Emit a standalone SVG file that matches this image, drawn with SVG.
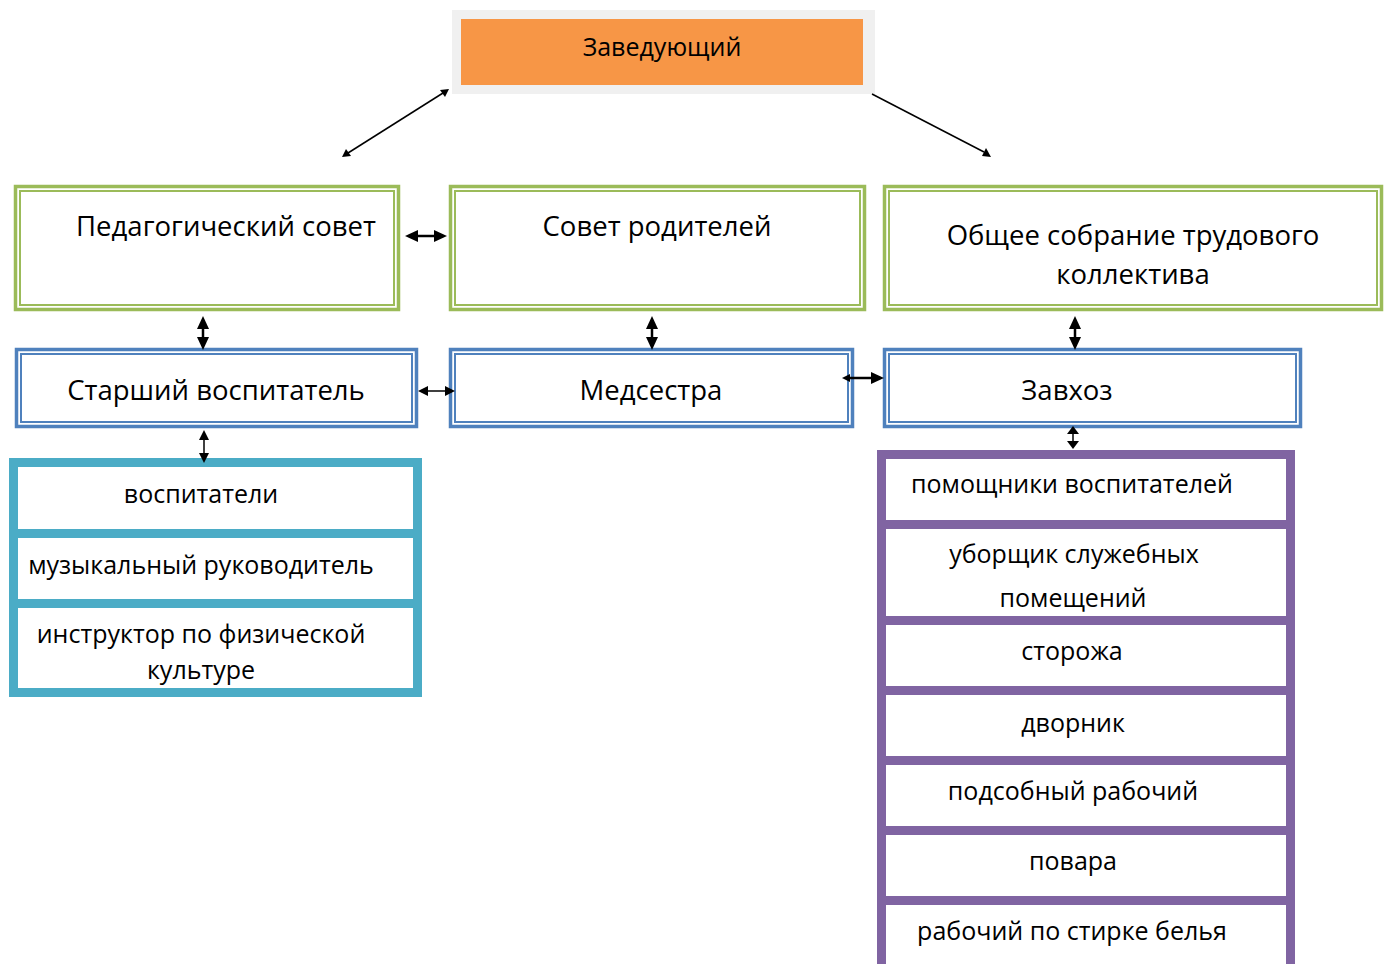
<svg xmlns="http://www.w3.org/2000/svg" width="1390" height="964" viewBox="0 0 1390 964">
<style>
text{font-family:"Open Sans","Noto Sans","Liberation Sans",sans-serif;font-size:25px;fill:#000;text-anchor:middle}
.big{font-size:27.5px}
.go{fill:none;stroke:#9BBB59;stroke-width:3.5}
.gi{fill:none;stroke:#9BBB59;stroke-width:2}
.bo{fill:none;stroke:#4F81BD;stroke-width:3.5}
.bi{fill:none;stroke:#4F81BD;stroke-width:2}
.ln{stroke:#000;stroke-width:1.5;fill:none}
.ln2{stroke:#000;stroke-width:2.5;fill:none}
.hd{fill:#000}
</style>
<rect width="1390" height="964" fill="#fff"/>
<g id="zav">
<rect x="452" y="10" width="423" height="84" fill="#F0F0F0"/>
<rect x="461" y="19" width="402" height="66" fill="#F79646"/>
<text x="662" y="56">Заведующий</text>
</g>
<g id="ped">
<rect class="go" x="15.5" y="186.5" width="383" height="123"/>
<rect class="gi" x="20" y="191" width="374" height="114"/>
<text class="big" x="226" y="236">Педагогический совет</text>
</g>
<g id="rod">
<rect class="go" x="450.5" y="186.5" width="414" height="123"/>
<rect class="gi" x="455" y="191" width="405" height="114"/>
<text class="big" x="657" y="236">Совет родителей</text>
</g>
<g id="obs">
<rect class="go" x="884.5" y="186.5" width="497" height="123"/>
<rect class="gi" x="889" y="191" width="488" height="114"/>
<text class="big" x="1133" y="245">Общее собрание трудового</text>
<text class="big" x="1133" y="284">коллектива</text>
</g>
<g id="star">
<rect class="bo" x="16.5" y="349.5" width="400" height="77"/>
<rect class="bi" x="21" y="354" width="391" height="68"/>
<text class="big" x="216" y="400">Старший воспитатель</text>
</g>
<g id="med">
<rect class="bo" x="450.5" y="349.5" width="402" height="77"/>
<rect class="bi" x="455" y="354" width="393" height="68"/>
<text class="big" x="651" y="400">Медсестра</text>
</g>
<g id="zavhoz">
<rect class="bo" x="884.5" y="349.5" width="416" height="77"/>
<rect class="bi" x="889" y="354" width="407" height="68"/>
<text class="big" x="1067" y="400">Завхоз</text>
</g>
<g id="ped-staff">
<rect x="9" y="458" width="413" height="239" fill="#4BACC6"/>
<rect x="18" y="467" width="395" height="62" fill="#fff"/>
<rect x="18" y="538" width="395" height="61" fill="#fff"/>
<rect x="18" y="608" width="395" height="80" fill="#fff"/>
<text x="201" y="503">воспитатели</text>
<text x="201" y="574">музыкальный руководитель</text>
<text x="201" y="643">инструктор по физической</text>
<text x="201" y="679">культуре</text>
</g>
<g id="tech-staff">
<rect x="877" y="450" width="418" height="520" fill="#8064A2"/>
<rect x="886" y="459" width="400" height="61" fill="#fff"/>
<rect x="886" y="529" width="400" height="87" fill="#fff"/>
<rect x="886" y="625" width="400" height="61" fill="#fff"/>
<rect x="886" y="695" width="400" height="61" fill="#fff"/>
<rect x="886" y="765" width="400" height="61" fill="#fff"/>
<rect x="886" y="835" width="400" height="61" fill="#fff"/>
<rect x="886" y="905" width="400" height="70" fill="#fff"/>
<text x="1072" y="493">помощники воспитателей</text>
<text x="1074" y="563">уборщик служебных</text>
<text x="1073" y="607">помещений</text>
<text x="1072" y="660">сторожа</text>
<text x="1073" y="732">дворник</text>
<text x="1073" y="800">подсобный рабочий</text>
<text x="1073" y="870">повара</text>
<text x="1072" y="940">рабочий по стирке белья</text>
</g>
<g id="connectors">
<line class="ln" x1="348" y1="153" x2="443" y2="93"/>
<polygon class="hd" points="342,157 346,149 351,156"/>
<polygon class="hd" points="449,89 440,90 445,97"/>
<line class="ln" x1="872" y1="94" x2="984" y2="152"/>
<polygon class="hd" points="991,157 982,156 986,148"/>
<line class="ln2" x1="415" y1="236" x2="437" y2="236"/>
<polygon class="hd" points="405,236 418,230 418,242"/>
<polygon class="hd" points="447,236 434,230 434,242"/>
<line class="ln2" x1="203" y1="326" x2="203" y2="340"/>
<polygon class="hd" points="203,316 197,329 209,329"/>
<polygon class="hd" points="203,350 197,337 209,337"/>
<line class="ln2" x1="652" y1="326" x2="652" y2="340"/>
<polygon class="hd" points="652,316 646,329 658,329"/>
<polygon class="hd" points="652,350 646,337 658,337"/>
<line class="ln2" x1="1075" y1="326" x2="1075" y2="340"/>
<polygon class="hd" points="1075,316 1069,329 1081,329"/>
<polygon class="hd" points="1075,350 1069,337 1081,337"/>
<line class="ln" x1="425" y1="391" x2="448" y2="391"/>
<polygon class="hd" points="418,391 428,386 428,396"/>
<polygon class="hd" points="455,391 445,386 445,396"/>
<line class="ln2" x1="848" y1="378" x2="872" y2="378"/>
<polygon class="hd" points="842,378 850,374 850,382"/>
<polygon class="hd" points="884,378 871,372 871,384"/>
<line class="ln" x1="204" y1="437" x2="204" y2="456"/>
<polygon class="hd" points="204,430 199,440 209,440"/>
<polygon class="hd" points="204,463 199,453 209,453"/>
<line class="ln" x1="1073" y1="432" x2="1073" y2="443"/>
<polygon class="hd" points="1073,426 1067,434 1079,434"/>
<polygon class="hd" points="1073,449 1067,441 1079,441"/>
</g>
</svg>
